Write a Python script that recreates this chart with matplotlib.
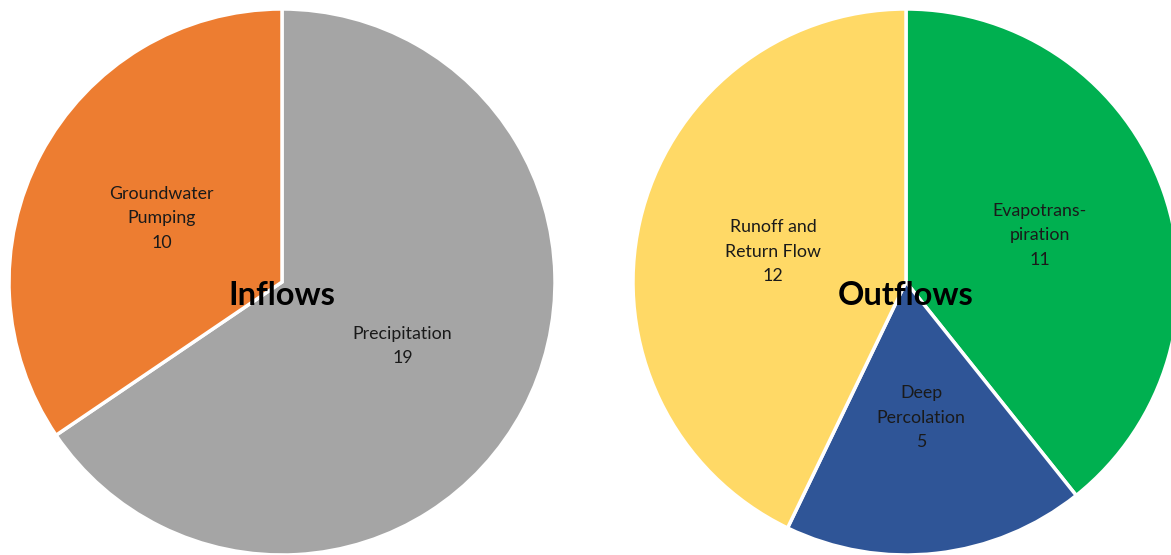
import numpy as np
import matplotlib.pyplot as plt

plt.rcParams['font.family'] = ['Lato', 'DejaVu Sans']

# water budget terms
in_labels = ['Precipitation', 'Groundwater\nPumping']
in_values = [19, 10]
in_colors = ['#A5A5A5', '#ED7D31']

out_labels = ['Evapotrans-\npiration', 'Deep\nPercolation', 'Runoff and\nReturn Flow']
out_values = [11, 5, 12]
out_colors = ['#00B050', '#2F5597', '#FFD966']

W, H = 1171, 555
fig = plt.figure(figsize=(W / 100, H / 100), dpi=100)

def draw_pie(cx, cy, r, labels, values, colors, title, label_r):
    ax = fig.add_axes([(cx - r) / W, (H - cy - r) / H, 2 * r / W, 2 * r / H])
    wedges, _ = ax.pie(values, colors=colors, startangle=90, counterclock=False,
                       wedgeprops=dict(edgecolor='white', linewidth=2.5))
    for w, lab, v, lr in zip(wedges, labels, values, label_r):
        ang = np.deg2rad((w.theta1 + w.theta2) / 2)
        ax.text(lr * np.cos(ang), lr * np.sin(ang), lab + '\n' + str(v),
                ha='center', va='center', fontsize=12.8, color='#1a1a1a', linespacing=1.65)
    ax.text(0, -0.05, title, ha='center', va='center', fontsize=23.5,
            fontweight='bold', color='black')
    ax.set_xlim(-1, 1)
    ax.set_ylim(-1, 1)
    ax.set_aspect('equal')
    ax.axis('off')

draw_pie(282, 282, 273, in_labels, in_values, in_colors, 'Inflows', [0.5, 0.5])
draw_pie(906, 282, 273, out_labels, out_values, out_colors, 'Outflows', [0.52, 0.5, 0.5])

fig.savefig('out.png', dpi=100)
